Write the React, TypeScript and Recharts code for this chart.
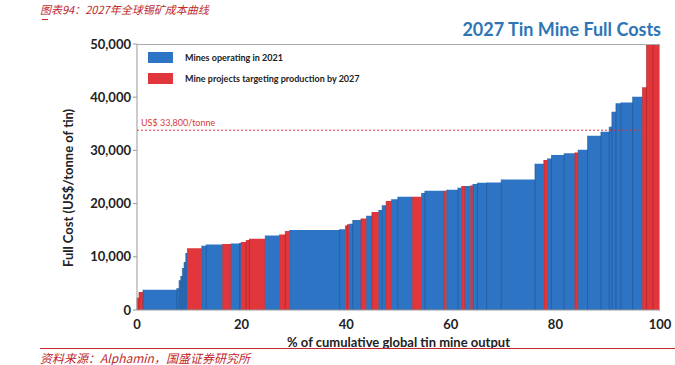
import { ComposedChart, Area, XAxis, YAxis, ReferenceLine } from "recharts";

// cost curve segments: start (% of cumulative output), full cost (US$/t), group
const segStart = [
  0, 0.38, 1.15, 7.61, 8.05, 8.37, 8.68, 9.0, 9.33, 9.64, 12.39, 13.22, 16.38, 18.0,
  19.6, 19.92, 20.88, 21.51, 24.52, 27.26, 28.35, 29.18, 38.75, 39.85, 40.23, 40.61,
  41.25, 42.82, 43.87, 44.92, 46.23, 46.88, 47.64, 48.66, 49.87, 52.68, 54.41, 55.04,
  58.72, 59.2, 61.36, 62.07, 62.74, 63.79, 64.23, 65.08, 66.86, 69.64, 76.09, 77.78,
  78.49, 79.25, 81.67, 83.72, 84.35, 86.15, 88.7, 90.29, 90.8, 91.57, 92.53, 94.77,
  96.65, 97.41, 98.66,
];
const segCost = [
  2300, 3400, 3800, 4100, 5600, 6400, 7900, 9000, 10700, 11600, 12100, 12300, 12400, 12500,
  12600, 12800, 13150, 13400, 14000, 14200, 14850, 15050, 15200, 15900, 16100, 16200,
  16900, 17200, 17700, 18400, 18800, 19700, 20500, 20800, 21300, 21300, 22000, 22400,
  22400, 22600, 23000, 23300, 23300, 23400, 23700, 23900, 23950, 24550, 27500, 28200,
  28500, 29150, 29450, 29600, 30100, 32750, 33500, 34450, 37250, 38850, 39000, 40100,
  41850, 50000, 50000,
];
const segGroup = [
  "R", "R", "B", "B", "B", "B", "B", "B", "B", "R", "B", "B", "R", "B",
  "B", "R", "R", "R", "B", "R", "R", "B", "B", "R", "R", "B",
  "B", "R", "B", "R", "B", "B", "R", "B", "B", "R", "B", "B",
  "R", "B", "B", "R", "B", "R", "B", "B", "B", "B", "B", "R",
  "B", "B", "B", "R", "B", "B", "B", "B", "B", "B", "B", "B",
  "R", "R", "R",
];
const xTicks = [0, 20, 40, 60, 80, 100];
const yTicks = [0, 10000, 20000, 30000, 40000, 50000];
const priceLine = 33800;

const BLUE = "#2e74c4";
const RED = "#e0363c";
const BLUE_EDGE = "#1d4f8c";
const RED_EDGE = "#9e1f24";

const rows = segStart.map((x, i) => ({
  x,
  blue: segGroup[i] === "B" ? segCost[i] : 0,
  red: segGroup[i] === "R" ? segCost[i] : 0,
}));
rows.push({ ...rows[rows.length - 1], x: 100 });

const font = "Lato, 'Open Sans', sans-serif";
const cjk = "'Noto Sans CJK SC', sans-serif";

function LegendBox() {
  const item = (color: string, text: string) => (
    <div style={{ display: "flex", alignItems: "center", height: 21 }}>
      <div style={{ width: 25, height: 11, background: color, marginRight: 12 }} />
      <span style={{ fontSize: 9, fontWeight: 700, color: "#222", fontFamily: font }}>{text}</span>
    </div>
  );
  return (
    <div style={{ position: "absolute", left: 148, top: 47 }}>
      {item(BLUE, "Mines operating in 2021")}
      {item(RED, "Mine projects targeting production by 2027")}
    </div>
  );
}

export default function App() {
  return (
    <div style={{ position: "fixed", left: 0, top: 0, width: 675, height: 365, background: "#fff", overflow: "hidden" }}>
      <div style={{ position: "absolute", left: 40, top: 2, lineHeight: "14px", color: "#c0282d", fontStyle: "italic", fontSize: 11, fontFamily: cjk }}>
        图表94：2027年全球锡矿成本曲线
      </div>
      <div style={{ position: "absolute", left: 42, top: 19, width: 6, height: 1, background: "#c0282d" }} />
      <div style={{ position: "absolute", right: 14, top: 18, color: "#2e75b6", fontWeight: 700, fontSize: 18, fontFamily: font }}>
        2027 Tin Mine Full Costs
      </div>
      <ComposedChart width={675} height={365} data={rows} margin={{ top: 44, right: 15, bottom: 15, left: 62 }}>
        <XAxis
          dataKey="x"
          type="number"
          domain={[0, 100]}
          ticks={xTicks}
          tick={{ fontSize: 13, fontWeight: 700, fill: "#222", fontFamily: font, dy: 2 }}
          tickLine={false}
          axisLine={{ stroke: "#999" }}
          height={40}
          label={{ value: "% of cumulative global tin mine output", position: "insideBottom", offset: 3, fontSize: 13, fontWeight: 700, fill: "#222", fontFamily: font }}
        />
        <YAxis
          type="number"
          domain={[0, 50000]}
          ticks={yTicks}
          width={75}
          allowDataOverflow
          tickFormatter={(v) => v.toLocaleString("en-US")}
          tick={{ fontSize: 13, fontWeight: 700, fill: "#222", fontFamily: font }}
          tickLine={{ stroke: "#999" }}
          tickSize={4}
          axisLine={{ stroke: "#999" }}
          label={{ value: "Full Cost (US$/tonne of tin)", angle: -90, position: "insideLeft", offset: 6, dy: 90, fontSize: 13, fontWeight: 700, fill: "#222", fontFamily: font }}
        />
        <Area type="stepAfter" dataKey="blue" fill={BLUE} fillOpacity={1} stroke="none" isAnimationActive={false} />
        <Area type="stepAfter" dataKey="red" fill={RED} fillOpacity={1} stroke="none" isAnimationActive={false} />
        {segStart.map((s, i) => (
          <ReferenceLine
            key={i}
            segment={[{ x: s, y: 0 }, { x: s, y: segCost[i] }]}
            stroke={segGroup[i] === "B" ? BLUE_EDGE : RED_EDGE}
            strokeWidth={0.7}
            strokeOpacity={0.8}
          />
        ))}
        <ReferenceLine
          y={priceLine}
          stroke="#e0363c"
          strokeDasharray="2 2"
          strokeWidth={1}
          label={{ value: "US$ 33,800/tonne", position: "insideBottomLeft", offset: 4, fontSize: 9, fill: "#d63a3a", fontFamily: font }}
        />
      </ComposedChart>
      <LegendBox />
      <div style={{ position: "absolute", left: 137, top: 44, width: 522, height: 266, border: "1px solid #aaa", borderLeft: "none", borderBottom: "none", pointerEvents: "none" }} />
      <div style={{ position: "absolute", left: 40, right: 0, top: 348, height: 1, background: "#c0282d" }} />
      <div style={{ position: "absolute", left: 40, top: 349, color: "#c0282d", fontStyle: "italic", fontSize: 12, fontFamily: cjk }}>
        资料来源：Alphamin，国盛证券研究所
      </div>
    </div>
  );
}
